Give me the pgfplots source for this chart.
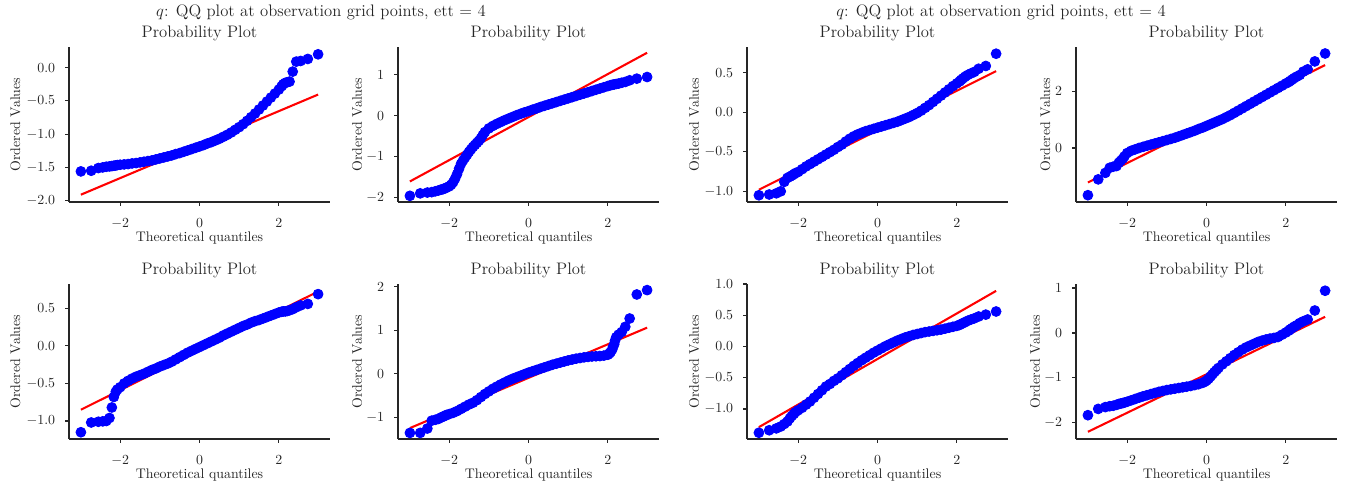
\documentclass[border=0pt]{standalone}
\usepackage{pgfplots}
\pgfplotsset{compat=1.18}
\definecolor{ink}{gray}{0.15}

\pgfplotsset{
  qq/.style={
    scale only axis, width=187.92pt, height=111.6pt,
    anchor=south west,
    axis x line*=bottom, axis y line*=left,
    axis line style={ink, line width=0.8pt},
    tick style={ink, line width=0.8pt},
    major tick length=2.6pt,
    tick align=outside,
    xmin=-3.29, xmax=3.29,
    xtick={-2,0,2},
    tick label style={font=\normalsize, text=ink, inner sep=0pt},
    xticklabel style={anchor=base, yshift=-15.8pt},
    yticklabel style={anchor=east, xshift=-7.2pt},
    title={Probability Plot},
    title style={at={(0.5,1)}, anchor=base, yshift=0.7pt, font=\large, text=ink, inner sep=0pt},
    xlabel={Theoretical quantiles},
    ylabel={Ordered Values},
    xlabel style={at={(axis description cs:0.5,-0.258)}, anchor=base, font=\normalsize, text=ink, inner sep=0pt},
    ylabel style={anchor=base, font=\normalsize, text=ink, inner sep=0pt},
    clip=false,
  },
  onedec/.style={yticklabel style={/pgf/number format/fixed, /pgf/number format/fixed zerofill, /pgf/number format/precision=1}},
  dots/.style={only marks, mark=*, mark size=3.55pt, mark options={fill=blue, draw=blue, line width=0.6pt}},
  fit/.style={red, line width=1.5pt, no marks},
}

\begin{document}
\begin{tikzpicture}
\useasboundingbox (0,0) rectangle (968.4pt,350.64pt);

\node[anchor=base, font=\large, text=ink] at (231.1pt,339.1pt) {$q$: QQ plot at observation grid points, ett = 4};
\node[anchor=base, font=\large, text=ink] at (720.7pt,339.1pt) {$q$: QQ plot at observation grid points, ett = 4};

% ---- top row ----
\begin{axis}[qq, onedec, at={(49.68pt,205.2pt)}, ymin=-2.02, ymax=0.31,
  ytick={-2,-1.5,-1,-0.5,0}, ylabel style={at={(axis description cs:-0.1877,0.5)}}]
\addplot[dots] coordinates {
(-2.99,-1.56) (-2.73,-1.55) (-2.55,-1.51) (-2.44,-1.50) (-2.35,-1.49) (-2.27,-1.485) (-2.21,-1.48) (-2.16,-1.475) (-2.11,-1.47) (-2.07,-1.465)
(-2.0,-1.46) (-1.9,-1.455) (-1.8,-1.45) (-1.7,-1.44) (-1.6,-1.435) (-1.5,-1.425) (-1.4,-1.415) (-1.3,-1.405) (-1.2,-1.395) (-1.1,-1.38)
(-1.0,-1.365) (-0.9,-1.35) (-0.8,-1.335) (-0.7,-1.32) (-0.6,-1.30) (-0.5,-1.285) (-0.4,-1.265) (-0.3,-1.245) (-0.2,-1.225) (-0.1,-1.205)
(0.0,-1.185) (0.1,-1.165) (0.2,-1.14) (0.3,-1.12) (0.4,-1.095) (0.5,-1.07) (0.6,-1.04) (0.7,-1.01) (0.8,-0.975) (0.9,-0.935)
(1.0,-0.895) (1.1,-0.85) (1.2,-0.80) (1.3,-0.745) (1.4,-0.69) (1.5,-0.63) (1.6,-0.57) (1.7,-0.51) (1.8,-0.45) (1.9,-0.39)
(2.0,-0.33) (2.07,-0.28) (2.11,-0.25) (2.16,-0.23) (2.21,-0.22) (2.27,-0.21) (2.35,-0.06) (2.44,0.09) (2.55,0.10) (2.73,0.13) (2.99,0.20)
};
\addplot[fit] coordinates {(-2.99,-1.91) (2.99,-0.405)};
\end{axis}

\begin{axis}[qq, at={(286.56pt,205.2pt)}, ymin=-2.10, ymax=1.67,
  ytick={-2,-1,0,1}, ylabel style={at={(axis description cs:-0.138,0.5)}}]
\addplot[dots] coordinates {
(-2.99,-1.95) (-2.73,-1.89) (-2.55,-1.87) (-2.44,-1.86) (-2.35,-1.84) (-2.27,-1.82) (-2.21,-1.80) (-2.16,-1.79) (-2.11,-1.77) (-2.07,-1.75)
(-2.0,-1.72) (-1.95,-1.68) (-1.9,-1.62) (-1.85,-1.53) (-1.8,-1.42) (-1.75,-1.29) (-1.7,-1.17) (-1.65,-1.09) (-1.6,-1.02) (-1.55,-0.95)
(-1.5,-0.88) (-1.45,-0.82) (-1.4,-0.76) (-1.35,-0.71) (-1.3,-0.66) (-1.25,-0.61) (-1.2,-0.55) (-1.15,-0.47) (-1.1,-0.40)
(-1.0,-0.31) (-0.9,-0.25) (-0.8,-0.20) (-0.7,-0.155) (-0.6,-0.11) (-0.5,-0.07) (-0.4,-0.03) (-0.3,0.01) (-0.2,0.045) (-0.1,0.08)
(0.0,0.11) (0.1,0.145) (0.2,0.175) (0.3,0.21) (0.4,0.24) (0.5,0.27) (0.6,0.30) (0.7,0.33) (0.8,0.36) (0.9,0.39)
(1.0,0.42) (1.1,0.45) (1.2,0.48) (1.3,0.51) (1.4,0.54) (1.5,0.57) (1.6,0.60) (1.7,0.63) (1.8,0.66) (1.9,0.69)
(2.0,0.72) (2.07,0.74) (2.11,0.75) (2.16,0.76) (2.21,0.77) (2.27,0.78) (2.35,0.80) (2.44,0.82) (2.55,0.86) (2.73,0.90) (2.99,0.94)
};
\addplot[fit] coordinates {(-2.99,-1.60) (2.99,1.53)};
\end{axis}

\begin{axis}[qq, onedec, at={(537.84pt,205.2pt)}, ymin=-1.135, ymax=0.825,
  ytick={-1,-0.5,0,0.5}, ylabel style={at={(axis description cs:-0.184,0.5)}}]
\addplot[dots] coordinates {
(-2.99,-1.05) (-2.73,-1.04) (-2.55,-1.025) (-2.44,-1.00) (-2.35,-0.88) (-2.27,-0.83) (-2.21,-0.815) (-2.16,-0.80) (-2.11,-0.785) (-2.07,-0.77)
(-2.0,-0.755) (-1.9,-0.72) (-1.8,-0.685) (-1.7,-0.655) (-1.6,-0.625) (-1.5,-0.595) (-1.4,-0.565) (-1.3,-0.535) (-1.2,-0.505) (-1.1,-0.475)
(-1.0,-0.44) (-0.9,-0.41) (-0.8,-0.37) (-0.7,-0.335) (-0.6,-0.305) (-0.5,-0.28) (-0.4,-0.26) (-0.3,-0.24) (-0.2,-0.225) (-0.1,-0.21)
(0.0,-0.195) (0.1,-0.18) (0.2,-0.165) (0.3,-0.15) (0.4,-0.135) (0.5,-0.12) (0.6,-0.10) (0.7,-0.08) (0.8,-0.06) (0.9,-0.035)
(1.0,-0.01) (1.1,0.02) (1.2,0.055) (1.3,0.09) (1.4,0.13) (1.5,0.17) (1.6,0.21) (1.7,0.25) (1.8,0.29) (1.9,0.33)
(2.0,0.365) (2.07,0.39) (2.11,0.41) (2.16,0.43) (2.21,0.45) (2.27,0.47) (2.35,0.49) (2.44,0.51) (2.55,0.55) (2.73,0.585) (2.99,0.74)
};
\addplot[fit] coordinates {(-2.99,-0.98) (2.99,0.52)};
\end{axis}

\begin{axis}[qq, at={(774.72pt,205.2pt)}, ymin=-1.91, ymax=3.57,
  ytick={0,2}, ylabel style={at={(axis description cs:-0.0996,0.5)}}]
\addplot[dots] coordinates {
(-2.99,-1.67) (-2.73,-1.11) (-2.55,-0.88) (-2.44,-0.70) (-2.35,-0.66) (-2.27,-0.64) (-2.21,-0.52) (-2.16,-0.45) (-2.11,-0.38) (-2.07,-0.30)
(-2.0,-0.18) (-1.9,-0.10) (-1.8,-0.05) (-1.7,0.00) (-1.6,0.04) (-1.5,0.08) (-1.4,0.12) (-1.3,0.16) (-1.2,0.20) (-1.1,0.24)
(-1.0,0.28) (-0.9,0.32) (-0.8,0.36) (-0.7,0.41) (-0.6,0.46) (-0.5,0.51) (-0.4,0.56) (-0.3,0.61) (-0.2,0.67) (-0.1,0.72)
(0.0,0.78) (0.1,0.84) (0.2,0.90) (0.3,0.96) (0.4,1.02) (0.5,1.09) (0.6,1.16) (0.7,1.24) (0.8,1.32) (0.9,1.40)
(1.0,1.48) (1.1,1.56) (1.2,1.64) (1.3,1.72) (1.4,1.80) (1.5,1.88) (1.6,1.96) (1.7,2.04) (1.8,2.12) (1.9,2.20)
(2.0,2.28) (2.07,2.33) (2.11,2.37) (2.16,2.42) (2.21,2.47) (2.27,2.52) (2.35,2.58) (2.44,2.70) (2.55,2.78) (2.73,3.06) (2.99,3.34)
};
\addplot[fit] coordinates {(-2.99,-1.22) (2.99,2.93)};
\end{axis}

% ---- bottom row ----
\begin{axis}[qq, onedec, at={(49.68pt,34.56pt)}, ymin=-1.24, ymax=0.825,
  ytick={-1,-0.5,0,0.5}, ylabel style={at={(axis description cs:-0.1877,0.5)}}]
\addplot[dots] coordinates {
(-2.99,-1.15) (-2.73,-1.02) (-2.55,-1.01) (-2.44,-1.005) (-2.35,-1.00) (-2.27,-0.96) (-2.21,-0.82) (-2.16,-0.68) (-2.11,-0.61) (-2.07,-0.58)
(-2.0,-0.55) (-1.9,-0.50) (-1.8,-0.465) (-1.7,-0.435) (-1.6,-0.41) (-1.5,-0.39) (-1.4,-0.37) (-1.3,-0.345) (-1.2,-0.32) (-1.1,-0.30)
(-1.0,-0.275) (-0.9,-0.255) (-0.8,-0.235) (-0.7,-0.21) (-0.6,-0.18) (-0.5,-0.15) (-0.4,-0.12) (-0.3,-0.09) (-0.2,-0.065) (-0.1,-0.04)
(0.0,-0.015) (0.1,0.01) (0.2,0.035) (0.3,0.06) (0.4,0.085) (0.5,0.11) (0.6,0.14) (0.7,0.165) (0.8,0.19) (0.9,0.215)
(1.0,0.24) (1.1,0.265) (1.2,0.285) (1.3,0.31) (1.4,0.33) (1.5,0.345) (1.6,0.365) (1.7,0.385) (1.8,0.405) (1.9,0.425)
(2.0,0.445) (2.07,0.455) (2.11,0.46) (2.16,0.46) (2.21,0.465) (2.27,0.475) (2.35,0.49) (2.44,0.515) (2.55,0.54) (2.73,0.56) (2.99,0.69)
};
\addplot[fit] coordinates {(-2.99,-0.85) (2.99,0.725)};
\end{axis}

\begin{axis}[qq, at={(286.56pt,34.56pt)}, ymin=-1.49, ymax=2.06,
  ytick={-1,0,1,2}, ylabel style={at={(axis description cs:-0.138,0.5)}}]
\addplot[dots] coordinates {
(-2.99,-1.35) (-2.73,-1.35) (-2.55,-1.25) (-2.44,-1.07) (-2.35,-1.05) (-2.27,-1.03) (-2.21,-1.00) (-2.16,-0.98) (-2.11,-0.96) (-2.07,-0.94)
(-2.0,-0.92) (-1.9,-0.89) (-1.8,-0.85) (-1.7,-0.80) (-1.6,-0.75) (-1.5,-0.70) (-1.4,-0.66) (-1.3,-0.60) (-1.2,-0.53) (-1.1,-0.46)
(-1.0,-0.40) (-0.9,-0.34) (-0.8,-0.29) (-0.7,-0.24) (-0.6,-0.195) (-0.5,-0.15) (-0.4,-0.11) (-0.3,-0.075) (-0.2,-0.04) (-0.1,-0.005)
(0.0,0.03) (0.1,0.06) (0.2,0.09) (0.3,0.12) (0.4,0.15) (0.5,0.18) (0.6,0.21) (0.7,0.235) (0.8,0.26) (0.9,0.285)
(1.0,0.31) (1.1,0.33) (1.2,0.35) (1.3,0.365) (1.4,0.38) (1.5,0.39) (1.6,0.40) (1.7,0.405) (1.8,0.41) (1.9,0.42)
(2.0,0.44) (2.04,0.47) (2.07,0.50) (2.11,0.56) (2.13,0.62) (2.16,0.68) (2.18,0.76) (2.21,0.84) (2.27,0.90) (2.35,0.96) (2.44,1.08) (2.55,1.27) (2.73,1.82) (2.99,1.92)
};
\addplot[fit] coordinates {(-2.99,-1.24) (2.99,1.06)};
\end{axis}

\begin{axis}[qq, onedec, at={(537.84pt,34.56pt)}, ymin=-1.48, ymax=1.0,
  ytick={-1,-0.5,0,0.5,1}, ylabel style={at={(axis description cs:-0.184,0.5)}}]
\addplot[dots] coordinates {
(-2.99,-1.38) (-2.73,-1.34) (-2.55,-1.31) (-2.44,-1.28) (-2.35,-1.24) (-2.27,-1.20) (-2.21,-1.15) (-2.16,-1.11) (-2.11,-1.08) (-2.07,-1.05)
(-2.0,-1.02) (-1.9,-0.98) (-1.8,-0.93) (-1.7,-0.88) (-1.6,-0.82) (-1.5,-0.76) (-1.4,-0.70) (-1.3,-0.64) (-1.2,-0.60) (-1.1,-0.55)
(-1.0,-0.51) (-0.9,-0.46) (-0.8,-0.41) (-0.7,-0.36) (-0.6,-0.31) (-0.5,-0.265) (-0.4,-0.22) (-0.3,-0.18) (-0.2,-0.14) (-0.1,-0.10)
(0.0,-0.065) (0.1,-0.03) (0.2,0.005) (0.3,0.035) (0.4,0.065) (0.5,0.095) (0.6,0.12) (0.7,0.145) (0.8,0.165) (0.9,0.185)
(1.0,0.20) (1.1,0.215) (1.2,0.23) (1.3,0.24) (1.4,0.25) (1.5,0.26) (1.6,0.27) (1.7,0.285) (1.8,0.30) (1.9,0.315)
(2.0,0.33) (2.07,0.345) (2.11,0.36) (2.16,0.375) (2.21,0.39) (2.27,0.41) (2.35,0.43) (2.44,0.45) (2.55,0.48) (2.73,0.51) (2.99,0.56)
};
\addplot[fit] coordinates {(-2.99,-1.29) (2.99,0.89)};
\end{axis}

\begin{axis}[qq, at={(774.72pt,34.56pt)}, ymin=-2.36, ymax=1.09,
  ytick={-2,-1,0,1}, ylabel style={at={(axis description cs:-0.138,0.5)}}]
\addplot[dots] coordinates {
(-2.99,-1.83) (-2.73,-1.69) (-2.55,-1.65) (-2.44,-1.63) (-2.35,-1.62) (-2.27,-1.60) (-2.21,-1.58) (-2.16,-1.57) (-2.11,-1.56) (-2.07,-1.55)
(-2.0,-1.53) (-1.9,-1.50) (-1.8,-1.47) (-1.7,-1.44) (-1.6,-1.41) (-1.5,-1.385) (-1.4,-1.36) (-1.3,-1.335) (-1.2,-1.31) (-1.1,-1.29)
(-1.0,-1.27) (-0.9,-1.255) (-0.8,-1.24) (-0.7,-1.225) (-0.6,-1.21) (-0.5,-1.195) (-0.4,-1.18) (-0.3,-1.16) (-0.2,-1.14) (-0.1,-1.11)
(-0.05,-1.09) (0.0,-1.06) (0.05,-1.02) (0.1,-0.97) (0.15,-0.92) (0.2,-0.87) (0.25,-0.825) (0.3,-0.78) (0.4,-0.70) (0.5,-0.63) (0.6,-0.56) (0.7,-0.49) (0.8,-0.43) (0.9,-0.37)
(1.0,-0.32) (1.1,-0.28) (1.2,-0.24) (1.3,-0.20) (1.4,-0.17) (1.5,-0.145) (1.6,-0.125) (1.7,-0.11) (1.8,-0.09) (1.9,-0.04)
(2.0,0.01) (2.07,0.05) (2.11,0.08) (2.16,0.11) (2.21,0.14) (2.27,0.17) (2.35,0.22) (2.44,0.26) (2.55,0.30) (2.73,0.50) (2.99,0.94)
};
\addplot[fit] coordinates {(-2.99,-2.20) (2.99,0.36)};
\end{axis}
\end{tikzpicture}
\end{document}
